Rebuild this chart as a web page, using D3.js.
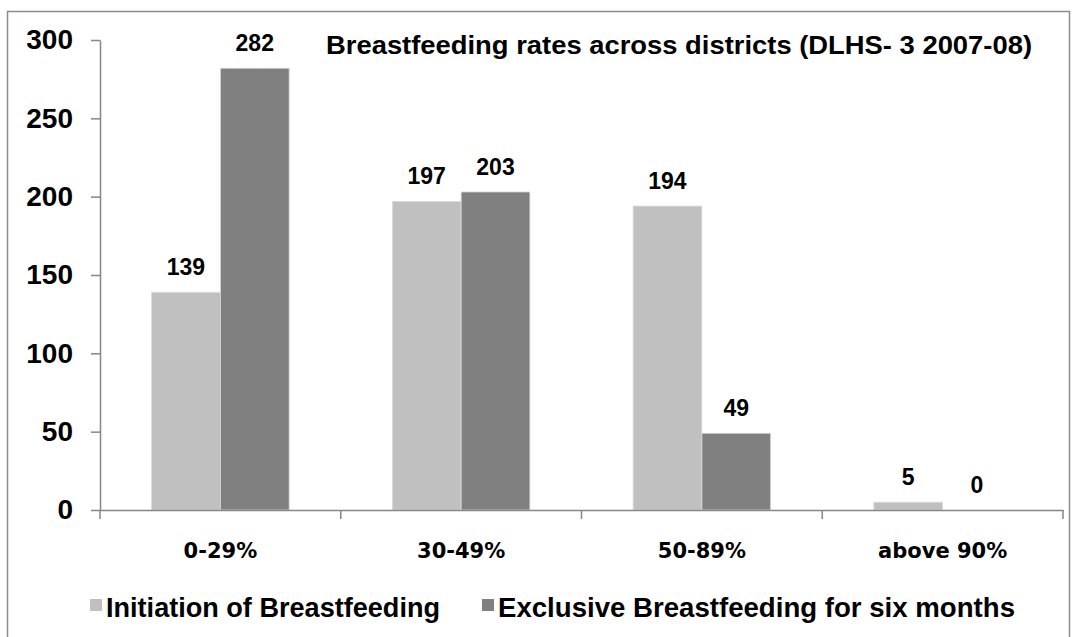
<!DOCTYPE html>
<html>
<head>
<meta charset="utf-8">
<script src="https://cdn.jsdelivr.net/npm/d3@7"></script>
<style>
  body { margin: 0; background: #fff; }
  svg { display: block; }
  text { font-family: "Liberation Sans", Arial, sans-serif; font-weight: bold; fill: #000; }
</style>
</head>
<body>
<div id="chart"></div>
<script>
// ====== data ======
var categories = ["0-29%", "30-49%", "50-89%", "above 90%"];
var seriesNames = ["Initiation of Breastfeeding", "Exclusive Breastfeeding for six months"];
var initiation = [139, 197, 194, 5];
var exclusive = [282, 203, 49, 0];
var yTicks = [0, 50, 100, 150, 200, 250, 300];
var colors = ["#c0c0c0", "#808080"];
var title = "Breastfeeding rates across districts (DLHS- 3 2007-08)";

var width = 1078, height = 637;
var plot = { left: 100, right: 1063, top: 40, bottom: 510 };

var svg = d3.select("#chart").append("svg")
    .attr("width", width)
    .attr("height", height);

// chart frame
svg.append("rect")
    .attr("x", 7.5).attr("y", 11.5)
    .attr("width", 1062).attr("height", 660)
    .attr("fill", "none")
    .attr("stroke", "#8c8c8c")
    .attr("stroke-width", 1.5);

// scales
var x0 = d3.scaleBand()
    .domain(categories)
    .range([plot.left, plot.right])
    .paddingInner(0).paddingOuter(0);

var x1 = d3.scaleBand()
    .domain([0, 1])
    .range([0, x0.bandwidth()])
    .paddingInner(0).paddingOuter(0.75);

var y = d3.scaleLinear()
    .domain([0, 300])
    .range([plot.bottom, plot.top]);

// build rows
var rows = categories.map(function(c, i) {
    return { cat: c, vals: [initiation[i], exclusive[i]] };
});

// bars
var groups = svg.append("g").selectAll("g")
    .data(rows)
    .enter().append("g")
    .attr("transform", d => `translate(${x0(d.cat)},0)`);

groups.selectAll("rect")
    .data(d => d.vals.map((v, k) => ({ k: k, v: v })))
    .enter().append("rect")
    .attr("x", d => x1(d.k))
    .attr("y", d => y(d.v))
    .attr("width", x1.bandwidth())
    .attr("height", d => y(0) - y(d.v))
    .attr("fill", d => colors[d.k])
    .attr("stroke", d => d.v > 0 ? "#dcdcdc" : "none")
    .attr("stroke-width", 0.8);

// value labels
groups.selectAll("text.val")
    .data(d => d.vals.map((v, k) => ({ k: k, v: v })))
    .enter().append("text")
    .attr("class", "val")
    .attr("x", d => x1(d.k) + x1.bandwidth() / 2)
    .attr("y", d => y(d.v) - 17)
    .attr("text-anchor", "middle")
    .style("font-size", "23px")
    .text(d => d.v);

// y axis
var yAxis = svg.append("g")
    .attr("transform", `translate(${plot.left},0)`)
    .call(d3.axisLeft(y).tickValues(yTicks).tickSize(9).tickSizeOuter(0).tickPadding(18));
yAxis.select(".domain").attr("stroke", "#868686").attr("stroke-width", 1.5);
yAxis.selectAll(".tick line").attr("stroke", "#868686").attr("stroke-width", 1.5);
yAxis.selectAll(".tick text")
    .attr("fill", "#000")
    .style("font-family", "'Liberation Sans', Arial, sans-serif")
    .style("font-weight", "bold")
    .style("font-size", "28px");

// x axis
var xAxis = svg.append("g")
    .attr("transform", `translate(0,${plot.bottom})`)
    .call(d3.axisBottom(x0).tickSize(0).tickSizeOuter(0).tickPadding(33));
xAxis.select(".domain").attr("stroke", "#868686").attr("stroke-width", 1.5);
xAxis.selectAll(".tick text")
    .attr("fill", "#000")
    .style("font-family", "'DejaVu Sans', sans-serif")
    .style("font-weight", "bold")
    .style("font-size", "21px");

// boundary ticks between categories
var bounds = categories.map(c => x0(c)).concat([x0.range()[1]]);
xAxis.selectAll("line.bound")
    .data(bounds)
    .enter().append("line")
    .attr("class", "bound")
    .attr("x1", d => d).attr("x2", d => d)
    .attr("y1", 0).attr("y2", 9)
    .attr("stroke", "#868686")
    .attr("stroke-width", 1.5);

// title
var t = svg.append("text")
    .attr("x", 326)
    .attr("y", 54)
    .style("font-size", "25px")
    .text(title);
t.attr("textLength", 706).attr("lengthAdjust", "spacingAndGlyphs");

// legend
var legendItems = [
    { name: seriesNames[0], color: colors[0], x: 90, textLen: 334 },
    { name: seriesNames[1], color: colors[1], x: 482, textLen: 517 }
];
var legend = svg.append("g").selectAll("g")
    .data(legendItems)
    .enter().append("g")
    .attr("transform", d => `translate(${d.x},0)`);

legend.append("rect")
    .attr("x", 0).attr("y", 599)
    .attr("width", 12).attr("height", 12)
    .attr("fill", d => d.color);

legend.append("text")
    .attr("x", 16)
    .attr("y", 617)
    .style("font-size", "27px")
    .attr("textLength", d => d.textLen)
    .attr("lengthAdjust", "spacingAndGlyphs")
    .text(d => d.name);
</script>
</body>
</html>
